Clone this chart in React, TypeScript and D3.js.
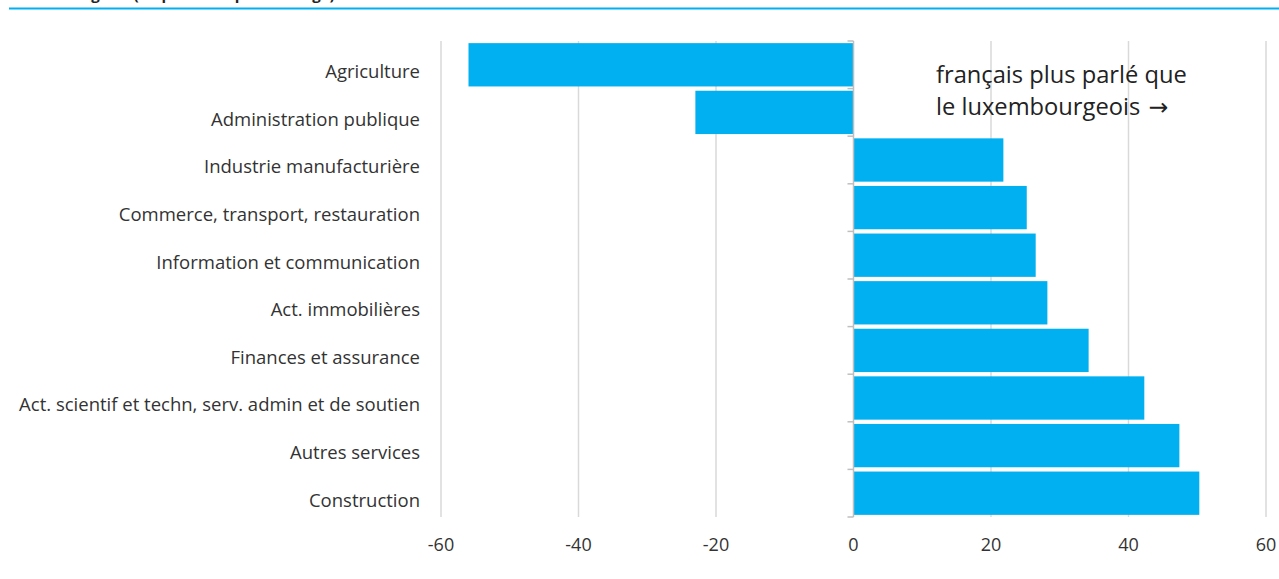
import React from "react";
import * as d3 from "d3";

const categories = [
  "Agriculture",
  "Administration publique",
  "Industrie manufacturière",
  "Commerce, transport, restauration",
  "Information et communication",
  "Act. immobilières",
  "Finances et assurance",
  "Act. scientif et techn, serv. admin et de soutien",
  "Autres services",
  "Construction",
];
const values = [-56, -23, 21.8, 25.2, 26.5, 28.2, 34.2, 42.3, 47.4, 50.3];
const xTicks = [-60, -40, -20, 0, 20, 40, 60];
const titleText = "luxembourgeois (en points de pourcentage)";
const noteLines = ["français plus parlé que", "le luxembourgeois"];
const noteArrow = "\u2192";

const W = 1279;
const H = 579;
const left = 441;
const right = 1266;
const top = 41;
const bottom = 517;
const font = "'Open Sans', 'Noto Sans', sans-serif";

export default function App() {
  const x = d3.scaleLinear().domain([-60, 60]).range([left, right]);
  const y = d3.scaleBand<string>().domain(categories).range([top, bottom]).paddingInner(0.09).paddingOuter(0.045);
  const bounds = d3.range(categories.length + 1).map((i) => top + i * ((bottom - top) / categories.length));
  return (
    <div style={{ position: "absolute", left: 0, top: 0, width: W, height: H, background: "#fff" }}>
      <svg width={W} height={H} style={{ display: "block", fontFamily: font }}>
        <text x={9} y={-0.5} fontSize={15} fontWeight={700} fill="#222">{titleText}</text>
        <line x1={9} x2={W} y1={8.5} y2={8.5} stroke="#00B0F0" strokeWidth={2} />
        {xTicks.map((t) => (
          t !== 0 ? <line key={"g" + t} x1={x(t)} x2={x(t)} y1={top} y2={bottom} stroke="#d9d9d9" strokeWidth={1.5} /> : null
        ))}
        {categories.map((c, i) => {
          const v = values[i];
          return (
            <rect key={c} x={x(Math.min(0, v))} y={y(c)} width={Math.abs(x(v) - x(0))} height={y.bandwidth()} fill="#00B0F0" />
          );
        })}
        <line x1={x(0)} x2={x(0)} y1={top} y2={bottom} stroke="#bfbfbf" strokeWidth={1.5} />
        {bounds.map((b, i) => (
          <line key={"t" + i} x1={x(0) - 6} x2={x(0)} y1={b} y2={b} stroke="#bfbfbf" strokeWidth={1.5} />
        ))}
        {categories.map((c) => (
          <text key={"l" + c} x={420} y={(y(c) ?? 0) + y.bandwidth() / 2 + 7} dy="0.35em" textAnchor="end" fontSize={18.5} fill="#333">{c}</text>
        ))}
        {xTicks.map((t) => (
          <text key={"x" + t} x={x(t)} y={545} dy="0.35em" textAnchor="middle" fontSize={18} fill="#333">{t}</text>
        ))}
        {noteLines.map((l, i) => (
          <text key={"n" + i} x={936} y={83 + i * 32} fontSize={23.7} fill="#222">
            {l}
            {i === noteLines.length - 1 ? (
              <tspan fontFamily="'DejaVu Sans', sans-serif" dx={8}>{noteArrow}</tspan>
            ) : null}
          </text>
        ))}
      </svg>
    </div>
  );
}
